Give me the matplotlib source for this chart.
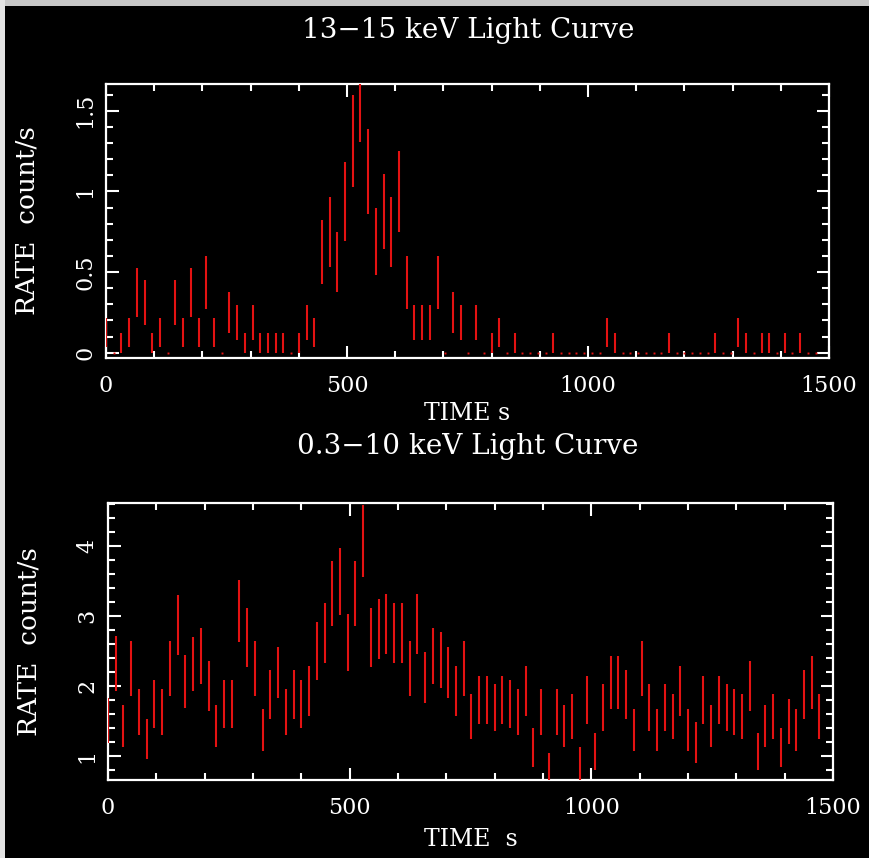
import numpy as np
import matplotlib
matplotlib.use('Agg')
import matplotlib.pyplot as plt
from matplotlib.ticker import MultipleLocator, FuncFormatter
from matplotlib.patches import Rectangle

plt.rcParams['font.family'] = 'DejaVu Serif'

# 16 s bins, bin start times 0 .. 1472 s
bin_width = 16.0
n_bins = 93
time = np.arange(n_bins) * bin_width

# 13-15 keV light curve (count/s)
hard_rate = [0.125, 0, 0.0625, 0.125, 0.375, 0.3125, 0.0625, 0.125, 0, 0.3125,
             0.125, 0.375, 0.125, 0.4375, 0.125, 0, 0.25, 0.1875, 0.0625, 0.1875,
             0.0625, 0.0625, 0.0625, 0.0625, 0, 0.0625, 0.1875, 0.125, 0.625, 0.75,
             0.5625, 0.9375, 1.3125, 1.625, 1.125, 0.6875, 0.875, 0.75, 1.0, 0.4375,
             0.1875, 0.1875, 0.1875, 0.4375, 0, 0.25, 0.1875, 0, 0.1875, 0,
             0.0625, 0.125, 0, 0.0625, 0, 0, 0, 0, 0.0625, 0,
             0, 0, 0, 0, 0, 0.125, 0.0625, 0, 0, 0,
             0, 0, 0, 0.0625, 0, 0, 0, 0, 0, 0.0625,
             0, 0, 0.125, 0.0625, 0, 0.0625, 0.0625, 0, 0.0625, 0,
             0.0625, 0, 0]
hard_err = [0.088, 0, 0.0625, 0.088, 0.153, 0.14, 0.0625, 0.088, 0, 0.14,
            0.088, 0.153, 0.088, 0.165, 0.088, 0, 0.125, 0.108, 0.0625, 0.108,
            0.0625, 0.0625, 0.0625, 0.0625, 0, 0.0625, 0.108, 0.088, 0.198, 0.217,
            0.1875, 0.242, 0.286, 0.319, 0.265, 0.207, 0.234, 0.217, 0.25, 0.165,
            0.108, 0.108, 0.108, 0.165, 0, 0.125, 0.108, 0, 0.108, 0,
            0.0625, 0.088, 0, 0.0625, 0, 0, 0, 0, 0.0625, 0,
            0, 0, 0, 0, 0, 0.088, 0.0625, 0, 0, 0,
            0, 0, 0, 0.0625, 0, 0, 0, 0, 0, 0.0625,
            0, 0, 0.088, 0.0625, 0, 0.0625, 0.0625, 0, 0.0625, 0,
            0.0625, 0, 0]

# 0.3-10 keV light curve (count/s)
soft_rate = [1.50, 2.32, 1.43, 2.25, 1.62, 1.24, 1.74, 1.62, 2.25, 2.87,
             2.06, 2.31, 2.43, 2.00, 1.43, 1.74, 1.74, 3.07, 2.69, 2.25,
             1.37, 1.88, 2.19, 1.62, 1.88, 1.74, 1.93, 2.50, 2.75, 3.32,
             3.49, 2.62, 3.32, 4.07, 2.69, 2.81, 2.88, 2.75, 2.75, 2.25,
             2.88, 2.12, 2.43, 2.37, 2.19, 1.93, 2.25, 1.56, 1.80, 1.80,
             1.69, 1.80, 1.74, 1.62, 1.93, 1.12, 1.62, 0.81, 1.62, 1.43,
             1.56, 0.88, 1.80, 1.06, 1.69, 2.05, 2.05, 1.88, 1.37, 2.25,
             1.69, 1.37, 1.69, 1.56, 1.93, 1.37, 1.19, 1.80, 1.43, 1.80,
             1.69, 1.62, 1.56, 2.00, 1.06, 1.43, 1.56, 1.12, 1.49, 1.37,
             1.88, 2.05, 1.56]
soft_err = [0.32, 0.39, 0.30, 0.39, 0.33, 0.29, 0.34, 0.33, 0.39, 0.43,
            0.38, 0.39, 0.40, 0.36, 0.30, 0.34, 0.34, 0.45, 0.42, 0.39,
            0.30, 0.35, 0.37, 0.33, 0.35, 0.34, 0.36, 0.41, 0.43, 0.47,
            0.48, 0.41, 0.47, 0.51, 0.42, 0.43, 0.43, 0.43, 0.43, 0.39,
            0.43, 0.37, 0.40, 0.40, 0.37, 0.36, 0.39, 0.32, 0.34, 0.34,
            0.33, 0.34, 0.34, 0.33, 0.36, 0.28, 0.33, 0.23, 0.33, 0.30,
            0.32, 0.25, 0.34, 0.26, 0.33, 0.38, 0.38, 0.35, 0.30, 0.39,
            0.33, 0.30, 0.33, 0.32, 0.36, 0.30, 0.29, 0.34, 0.30, 0.34,
            0.33, 0.33, 0.32, 0.36, 0.26, 0.30, 0.32, 0.28, 0.32, 0.30,
            0.35, 0.38, 0.32]

titles = ['13\u221215 keV Light Curve', '0.3\u221210 keV Light Curve']
xlabels = ['TIME s', 'TIME  s']
ylabel = 'RATE  count/s'

red = '#e41212'
fg = 'white'

W, H = 869, 858
fig = plt.figure(figsize=(W / 100, H / 100), dpi=100, facecolor='black')

def px(x0, y0, x1, y1):
    # pixel box (left, top, right, bottom) -> figure rect
    return [x0 / W, 1 - y1 / H, (x1 - x0) / W, (y1 - y0) / H]

ax1 = fig.add_axes(px(106, 84, 829, 358))
ax2 = fig.add_axes(px(108, 503, 833, 780))

def style(ax, ymaj, ymin):
    ax.set_facecolor('black')
    for s in ax.spines.values():
        s.set_color(fg)
        s.set_linewidth(1.6)
    ax.xaxis.set_major_locator(MultipleLocator(500))
    ax.xaxis.set_minor_locator(MultipleLocator(100))
    ax.yaxis.set_major_locator(MultipleLocator(ymaj))
    ax.yaxis.set_minor_locator(MultipleLocator(ymin))
    ax.yaxis.set_major_formatter(FuncFormatter(lambda v, p: '%g' % v))
    ax.tick_params(which='both', direction='in', top=True, right=True,
                   colors=fg, width=1.5, labelsize=16)
    ax.tick_params(which='major', length=9)
    ax.tick_params(which='minor', length=5)
    ax.tick_params(axis='x', pad=12)
    ax.tick_params(axis='y', pad=7)
    for lab in ax.get_yticklabels():
        lab.set_rotation(90)
        lab.set_va('center')

# top panel
style(ax1, 0.5, 0.1)
ax1.errorbar(time, hard_rate, yerr=hard_err, fmt='none', ecolor=red,
             elinewidth=1.5, zorder=3)
zero = np.array(hard_err) == 0
ax1.plot(time[zero], np.array(hard_rate)[zero], 's', ms=1.4, color=red, mew=0, zorder=3)
ax1.set_xlim(0, 1500)
ax1.set_ylim(-0.033, 1.666)

# bottom panel
style(ax2, 1, 0.2)
ax2.errorbar(time, soft_rate, yerr=soft_err, fmt='none', ecolor=red,
             elinewidth=1.5, zorder=3)
ax2.set_xlim(0, 1500)
ax2.set_ylim(0.653, 4.614)

for ax, xl in [(ax1, xlabels[0]), (ax2, xlabels[1])]:
    ax.set_xlabel(xl, color=fg, fontsize=17)
    ax.set_ylabel(ylabel, color=fg, fontsize=19)
    ax.yaxis.set_label_coords(-0.092, 0.5)
ax1.xaxis.set_label_coords(0.5, -0.16)
ax2.xaxis.set_label_coords(0.5, -0.175)

fig.text(468 / W, 1 - 30 / H, titles[0], color=fg, fontsize=20, ha='center', va='center')
fig.text(468 / W, 1 - 447 / H, titles[1], color=fg, fontsize=20, ha='center', va='center')

# light frame strips at top and left edge of the screenshot
fig.add_artist(Rectangle((0, 1 - 6 / H), 1, 6 / H, transform=fig.transFigure,
                         color='#c8c8c8', lw=0))
fig.add_artist(Rectangle((0, 0), 5 / W, 1, transform=fig.transFigure,
                         color='#e4e4e4', lw=0))

fig.savefig('out.png', dpi=100, facecolor='black')
